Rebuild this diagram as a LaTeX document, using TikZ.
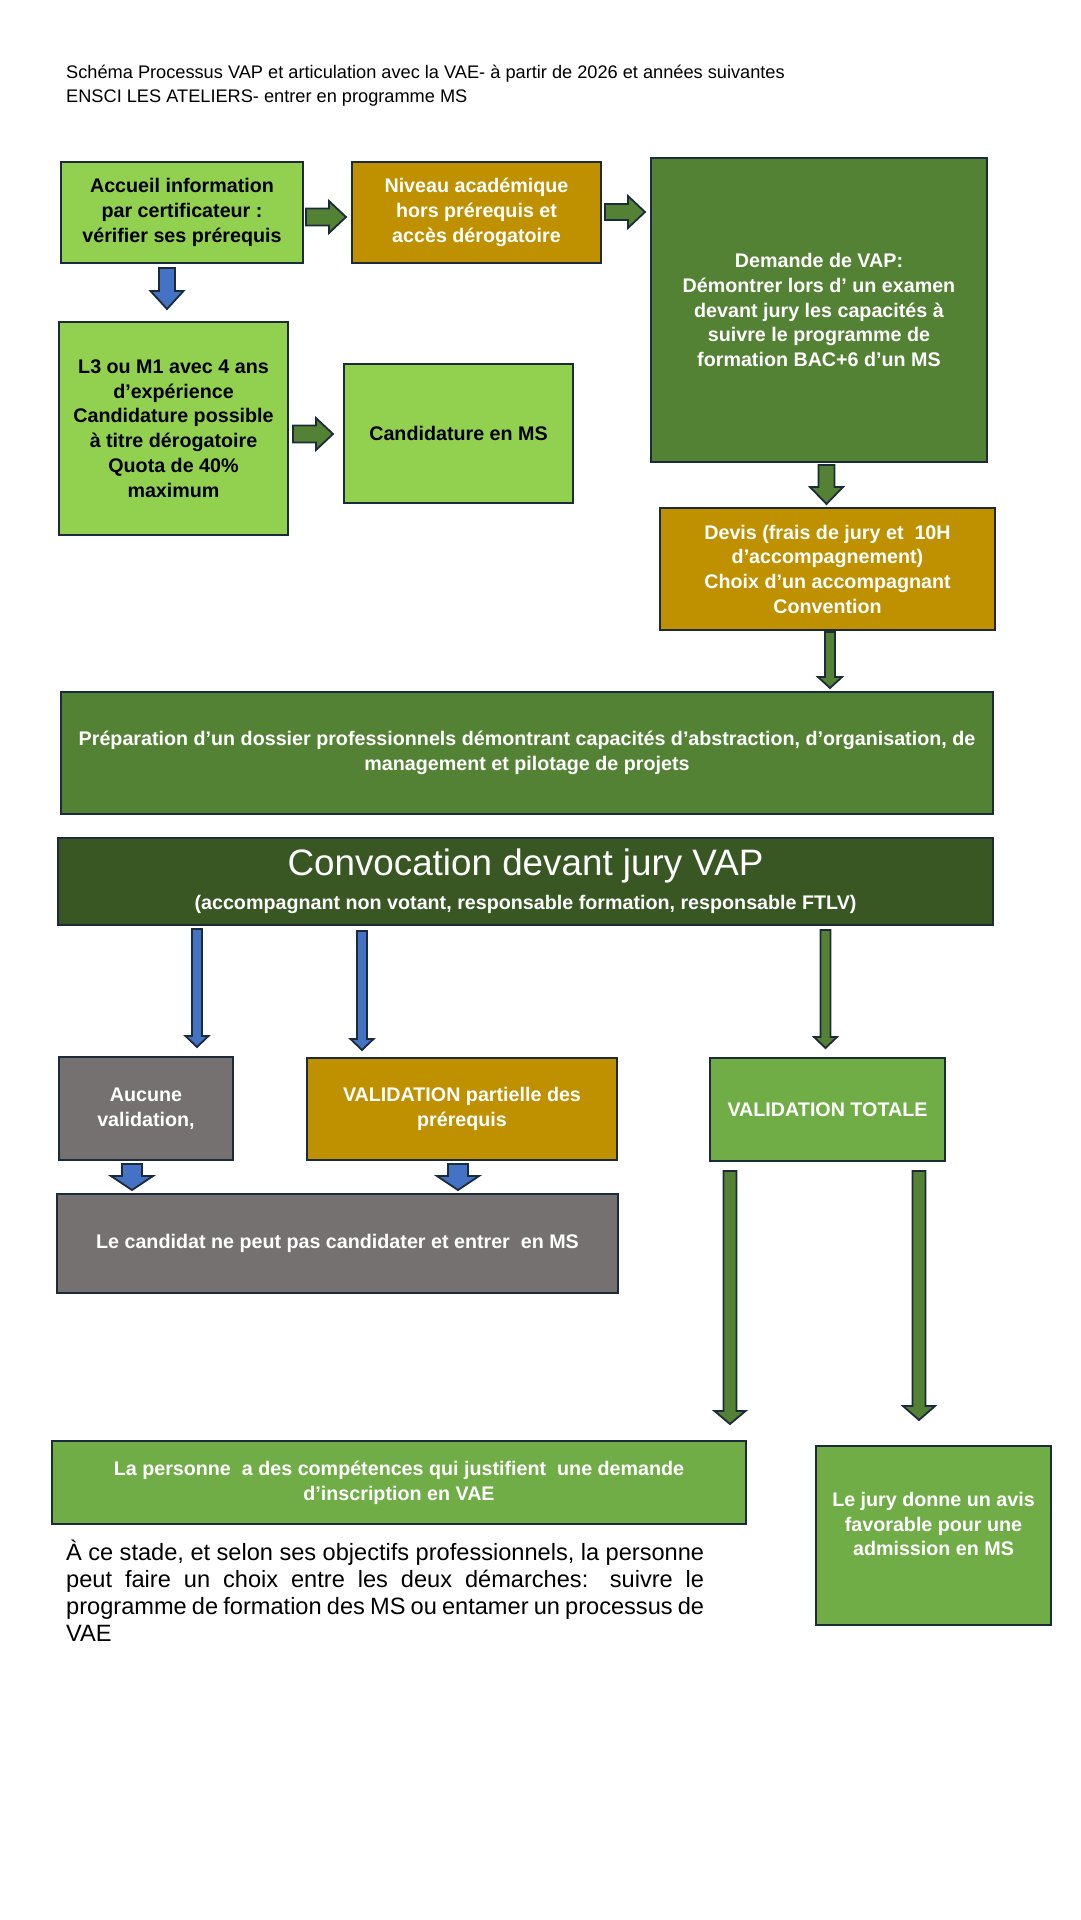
\documentclass[tikz,border=0pt]{standalone}
\usepackage{fontspec}
\setmainfont{Liberation Sans}
\usetikzlibrary{calc}
\definecolor{lgreen}{HTML}{92D050}
\definecolor{gold}{HTML}{BF9000}
\definecolor{mgreen}{HTML}{548235}
\definecolor{dgreen}{HTML}{385723}
\definecolor{grayb}{HTML}{767171}
\definecolor{vgreen}{HTML}{70AD47}
\definecolor{edgec}{HTML}{1C2B3A}
\definecolor{blueA}{HTML}{4472C4}
\newcommand\boxfont{\fontsize{19.7}{24.7}\selectfont\bfseries}
% block arrow: start, end, shaft half width, head half width, head length, style
\newcommand\blockarr[6]{%
  \coordinate (ba-s) at (#1);
  \coordinate (ba-e) at (#2);
  \coordinate (ba-h) at ($(ba-e)!#5!(ba-s)$);
  \draw[#6] ($(ba-s)!#3!90:(ba-e)$) -- ($(ba-h)!#3!-90:(ba-s)$) -- ($(ba-h)!#4!-90:(ba-s)$) -- (ba-e)
     -- ($(ba-h)!#4!90:(ba-s)$) -- ($(ba-h)!#3!90:(ba-s)$) -- ($(ba-s)!#3!-90:(ba-e)$) -- cycle;}
\tikzset{
  box/.style={draw=edgec, line width=2pt, inner sep=0pt, align=center, font=\boxfont, text=white},
  boxdark/.style={box, text=black},
  garrow/.style={fill=mgreen, draw=edgec, line width=1.8pt, line join=miter},
  barrow/.style={fill=blueA, draw=edgec, line width=1.8pt, line join=miter},
}
\begin{document}
\begin{tikzpicture}[x=1pt,y=-1pt]
\fill[white] (0,0) rectangle (1080,1920);
\useasboundingbox (0,0) rectangle (1080,1920);

\node[anchor=base west, inner sep=0pt, font=\fontsize{18.2}{24}\selectfont] (t1) at (66,78) {Schéma Processus VAP et articulation avec la VAE- à partir de 2026 et années suivantes};
\node[anchor=base west, inner sep=0pt, font=\fontsize{18.2}{24}\selectfont] (t2) at (66,102.5) {ENSCI LES ATELIERS- entrer en programme MS};

\node[boxdark, fill=lgreen, minimum width=242pt, minimum height=101pt] (A) at (182,212.5)
  {Accueil information\\par certificateur :\\vérifier ses prérequis};
\node[box, fill=gold, minimum width=249pt, minimum height=101pt] (B) at (476.5,212.5)
  {Niveau académique\\hors prérequis et\\accès dérogatoire};
\node[box, fill=mgreen, minimum width=336pt, minimum height=304pt] (C) at (819,310)
  {Demande de VAP:\\Démontrer lors d’ un examen\\devant jury les capacités à\\suivre le programme de\\formation BAC+6 d’un MS};
\node[boxdark, fill=lgreen, minimum width=229pt, minimum height=213pt] (D) at (173.5,428.5)
  {L3 ou M1 avec 4 ans\\d’expérience\\Candidature possible\\à titre dérogatoire\\Quota de 40\%\\maximum};
\node[boxdark, fill=lgreen, minimum width=229pt, minimum height=139pt] (E) at (458.5,433.5)
  {Candidature en MS};
\node[box, fill=gold, minimum width=335pt, minimum height=122pt] (F) at (827.5,569)
  {Devis (frais de jury et~ 10H\\d’accompagnement)\\Choix d’un accompagnant\\Convention};
\node[box, fill=mgreen, minimum width=932pt, minimum height=122pt] (G) at (527,753)
  {Préparation d’un dossier professionnels démontrant capacités d’abstraction, d’organisation, de\\management et pilotage de projets};
\node[box, fill=dgreen, minimum width=935pt, minimum height=87pt] (H) at (525.5,881.5)
  {{\fontsize{36.8}{40}\mdseries\selectfont Convocation devant jury VAP}\\[9.3pt](accompagnant non votant, responsable formation, responsable FTLV)};
\node[box, fill=grayb, minimum width=174pt, minimum height=103pt] (I) at (146,1108.5)
  {Aucune\\validation,};
\node[box, fill=gold, minimum width=310pt, minimum height=102pt] (J) at (462,1109)
  {VALIDATION partielle des\\prérequis};
\node[box, fill=vgreen, minimum width=235pt, minimum height=103pt] (K) at (827.5,1109.5)
  {VALIDATION TOTALE};
\node[box, fill=grayb, minimum width=561pt, minimum height=99pt] (L) at (337.5,1243.5)
  {Le candidat ne peut pas candidater et entrer~ en MS};
\node[box, fill=vgreen, minimum width=694pt, minimum height=83pt] (M) at (399,1482.5)
  {La personne~ a des compétences qui justifient~ une demande\\d’inscription en VAE};
\node[box, fill=vgreen, minimum width=235pt, minimum height=179pt] (N) at (933.5,1535.5)
  {Le jury donne un avis\\favorable pour une\\admission en MS\\[-1.5pt]\mbox{}};

\node[anchor=north west, inner sep=0pt, text width=638pt, align=justify,
  font=\fontsize{23.6}{27}\selectfont] (P) at (66,1539.5)
  {À ce stade, et selon ses objectifs professionnels, la personne\linebreak
   peut faire un choix entre les deux démarches: suivre le\linebreak
   programme de formation des MS ou entamer un processus de\linebreak VAE};

% arrows
\blockarr{$(A.east)+(2,4.5)$}{$(B.west)+(-5,4.5)$}{8.5pt}{16pt}{17pt}{garrow}
\blockarr{$(B.east)+(3,-0.5)$}{$(C.west|-B.east)+(-5,-0.5)$}{8pt}{16pt}{17pt}{garrow}
\blockarr{$(A.south)+(-15,4)$}{$(D.north)+(-6.5,-12)$}{8pt}{16.5pt}{18pt}{barrow}
\blockarr{$(D.east)+(4,5.5)$}{$(E.west)+(-10,0.5)$}{8.5pt}{16pt}{17pt}{garrow}
\blockarr{$(C.south)+(7.5,2)$}{$(F.north)+(-1,-3)$}{8pt}{16.5pt}{17pt}{garrow}
\blockarr{$(F.south)+(2.5,1)$}{$(G.north-|F.south)+(2.5,-3)$}{5pt}{12pt}{11pt}{garrow}
\blockarr{$(H.south-|I.north)+(51,3)$}{$(I.north)+(51,-9)$}{5pt}{11.5pt}{11pt}{barrow}
\blockarr{$(H.south-|J.north)+(-100,5)$}{$(J.north)+(-100,-7)$}{5pt}{11.5pt}{11pt}{barrow}
\blockarr{$(H.south-|K.north)+(-2,4)$}{$(K.north)+(-2,-9)$}{5pt}{11.5pt}{11pt}{garrow}
\blockarr{$(I.south)+(-14,3)$}{$(L.north-|I.south)+(-14,-3)$}{10pt}{21pt}{14pt}{barrow}
\blockarr{$(J.south)+(-4,3)$}{$(L.north-|J.south)+(-4,-3)$}{10pt}{21pt}{14pt}{barrow}
\blockarr{$(K.south)+(-97.5,9)$}{$(M.north-|K.south)+(-97.5,-16)$}{6.5pt}{15.5pt}{13pt}{garrow}
\blockarr{$(K.south)+(91.5,9)$}{$(N.north-|K.south)+(91.5,-25)$}{6.5pt}{16pt}{14pt}{garrow}
\end{tikzpicture}
\end{document}
